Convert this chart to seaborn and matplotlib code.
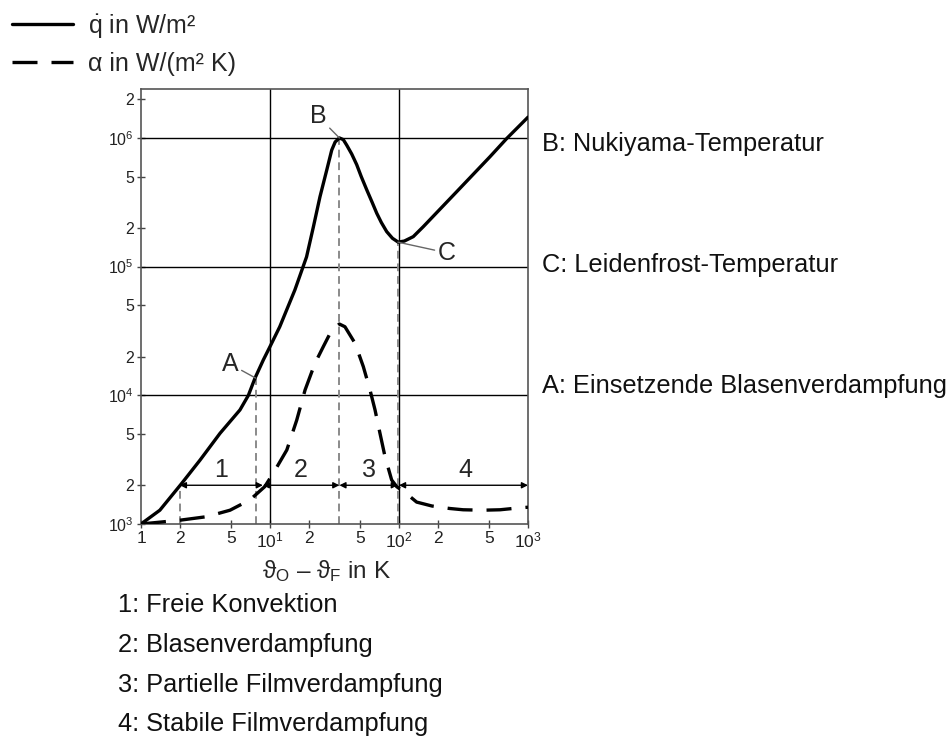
import numpy as np
import pandas as pd
import matplotlib
matplotlib.use("Agg")
import matplotlib.pyplot as plt
import seaborn as sns
from matplotlib.ticker import NullLocator

# ---------------- data ----------------
dT_q = [1, 1.4, 2.07, 2.87, 4.1, 5.85, 6.8, 7.65, 8.87, 10, 11.9, 15.6, 19.2,
        21.7, 24.4, 27.5, 30.1, 32, 34.5, 37, 39.3, 43, 47, 51, 56.3, 62, 67.2, 73,
        80.3, 89, 98.6, 110, 129, 154, 280, 507, 684, 1000]
q_vals = [1e3, 1.28e3, 2.07e3, 3.14e3, 5.07e3, 7.7e3, 1.0e4, 1.36e4, 1.88e4, 2.39e4,
          3.41e4, 6.6e4, 1.19e5, 2.04e5, 3.49e5, 5.6e5, 8.05e5, 9.3e5, 1e6,
          9.7e5, 8.8e5, 7.5e5, 6.2e5, 5.0e5, 3.94e5, 3.15e5, 2.6e5, 2.2e5, 1.87e5,
          1.66e5, 1.55e5, 1.58e5, 1.71e5, 2.04e5, 3.82e5, 7.14e5, 9.9e5, 1.45e6]

dT_a = [1, 2, 3.23, 4.9, 7.0, 9.1, 10.6, 13.5, 16.1, 18.7, 22.3, 25.9, 30.1, 34.5,
        38.1, 45.6, 52.9, 59.6, 65.2, 71.2, 77.9, 87.7, 96, 116, 137, 180, 247, 314,
        446, 607, 823, 1000]
alpha_vals = [1e3, 1.07e3, 1.14e3, 1.28e3, 1.54e3, 1.95e3, 2.48e3, 3.76e3, 6.4e3,
              1.1e4, 1.77e4, 2.39e4, 3.21e4, 3.58e4, 3.41e4, 2.54e4, 1.67e4, 1.1e4,
              7.7e3, 5.07e3, 3.34e3, 2.2e3, 1.95e3, 1.7e3, 1.48e3, 1.38e3, 1.32e3,
              1.29e3, 1.28e3, 1.29e3, 1.33e3, 1.35e3]

# characteristic points A, B, C
pt_names = ["A", "B", "C"]
pt_x = [7.75, 34.5, 98]
pt_y = [1.36e4, 1e6, 1.55e5]

# regime arrows (y = 2e3)
region_names = ["1", "2", "3", "4"]
region_start = [2, 8.8, 34.5, 100]
region_end = [8.8, 34.5, 98, 1000]
region_label_x = [4.2, 17.4, 59, 325]
region_y = 2e3

# tick labels
x_ticks = [1, 2, 5, 10, 20, 50, 100, 200, 500, 1000]
x_ticklabels = ["1", "2", "5", r"$10^{1}$", "2", "5", r"$10^{2}$", "2", "5", r"$10^{3}$"]
y_ticks = [1e3, 2e3, 5e3, 1e4, 2e4, 5e4, 1e5, 2e5, 5e5, 1e6, 2e6]
y_ticklabels = [r"$10^{3}$", "2", "5", r"$10^{4}$", "2", "5", r"$10^{5}$", "2", "5",
                r"$10^{6}$", "2"]

legend_labels = [r"$\dot{\mathrm{q}}$ in W/m²", "α in W/(m² K)"]
xlabel = r"$\mathrm{ϑ_O\ –\ ϑ_F}$ in K"
right_texts = ["B: Nukiyama-Temperatur", "C: Leidenfrost-Temperatur",
               "A: Einsetzende Blasenverdampfung"]
bottom_texts = ["1: Freie Konvektion", "2: Blasenverdampfung",
                "3: Partielle Filmverdampfung", "4: Stabile Filmverdampfung"]

# ---------------- style ----------------
sns.set_theme(style="white")
plt.rcParams["font.family"] = ["Liberation Sans", "DejaVu Sans"]
plt.rcParams["mathtext.fontset"] = "custom"
plt.rcParams["mathtext.rm"] = "Liberation Sans"
plt.rcParams["mathtext.it"] = "Liberation Sans:italic"
plt.rcParams["mathtext.bf"] = "Liberation Sans:bold"
plt.rcParams["mathtext.fallback"] = "stixsans"

W, H = 950, 742
fig = plt.figure(figsize=(W / 100, H / 100), dpi=100)
L, R, T, B = 141, 528, 89, 524
ax = fig.add_axes([L / W, 1 - B / H, (R - L) / W, (B - T) / H])

df_q = pd.DataFrame({"dT": dT_q, "val": q_vals})
df_a = pd.DataFrame({"dT": dT_a, "val": alpha_vals})

ax.set_xscale("log")
ax.set_yscale("log")

# grid lines
for gx in [10, 100]:
    ax.axvline(gx, color="black", lw=1.0, zorder=1)
for gy in [1e4, 1e5, 1e6]:
    ax.axhline(gy, color="black", lw=1.0, zorder=1)

# gray dashed helper lines
ax.vlines([region_start[0]], 1e3, region_y, colors="#8a8a8a", linestyles=(0, (4, 2.5)), lw=1.4, zorder=2)
ax.vlines(pt_x, 1e3, pt_y, colors="#8a8a8a", linestyles=(0, (4, 2.5)), lw=1.4, zorder=2)

sns.lineplot(data=df_q, x="dT", y="val", ax=ax, color="black", lw=2.4,
             label=legend_labels[0], zorder=4, sort=False)
sns.lineplot(data=df_a, x="dT", y="val", ax=ax, color="black", lw=2.4,
             label=legend_labels[1], zorder=4, sort=False)
for ln in ax.lines[-2:]:
    ln.set_solid_joinstyle("round")
    ln.set_dash_joinstyle("round")
ax.lines[-1].set_dashes([7.5, 4.2])

ax.set_xlim(1, 1000)
ax.set_ylim(1e3, 2.4e6)

# region arrows
for s, e, name, lx in zip(region_start, region_end, region_names, region_label_x):
    ax.annotate("", xy=(e, region_y), xytext=(s, region_y),
                arrowprops=dict(arrowstyle="<|-|>", color="black", lw=1.0,
                                mutation_scale=9, shrinkA=0, shrinkB=0), zorder=3)
    ax.text(lx, region_y * 1.32, name, fontsize=18, ha="center", va="center")

# point labels with leaders
label_pos = {"A": (4.9, 1.75e4), "B": (23.6, 1.47e6), "C": (235, 1.28e5)}
for n, x, y in zip(pt_names, pt_x, pt_y):
    ax.annotate(n, xy=(x, y), xytext=label_pos[n], fontsize=18, ha="center", va="center",
                arrowprops=dict(arrowstyle="-", color="#666666", lw=1.0, shrinkA=0, shrinkB=0),
                zorder=5)

# ticks
ax.set_xticks(x_ticks)
ax.set_xticklabels(x_ticklabels, fontsize=12.5)
ax.set_yticks(y_ticks)
ax.set_yticklabels(y_ticklabels, fontsize=11.5)
ax.xaxis.set_minor_locator(NullLocator())
ax.yaxis.set_minor_locator(NullLocator())
ax.tick_params(axis="both", direction="inout", length=6, width=1, color="#444444",
               labelcolor="#222222", pad=2, bottom=True, left=True)
ax.set_xlabel("")
ax.set_ylabel("")
for sp in ax.spines.values():
    sp.set_color("#555555")
    sp.set_linewidth(1.2)

# legend at top left of figure
leg = ax.get_legend()
handles, labels = ax.get_legend_handles_labels()
leg.remove()
fig.legend(handles, labels, loc="upper left", bbox_to_anchor=(-0.006, 1.008),
           frameon=False, fontsize=18, handlelength=2.45, handletextpad=0.6,
           labelspacing=0.5, borderaxespad=0.3)

# right-side annotations
for txt, py in zip(right_texts, [144, 265, 386]):
    fig.text(542 / W, 1 - py / H, txt, fontsize=18.3, ha="left", va="center", color="#111111")

# x-axis label
fig.text(327 / W, 1 - 571 / H, xlabel, fontsize=17.5, ha="center", va="center")

# bottom legend texts
for txt, py in zip(bottom_texts, [605, 645, 685, 724]):
    fig.text(118 / W, 1 - py / H, txt, fontsize=18.3, ha="left", va="center", color="#111111")

fig.savefig("out.png", dpi=100)
